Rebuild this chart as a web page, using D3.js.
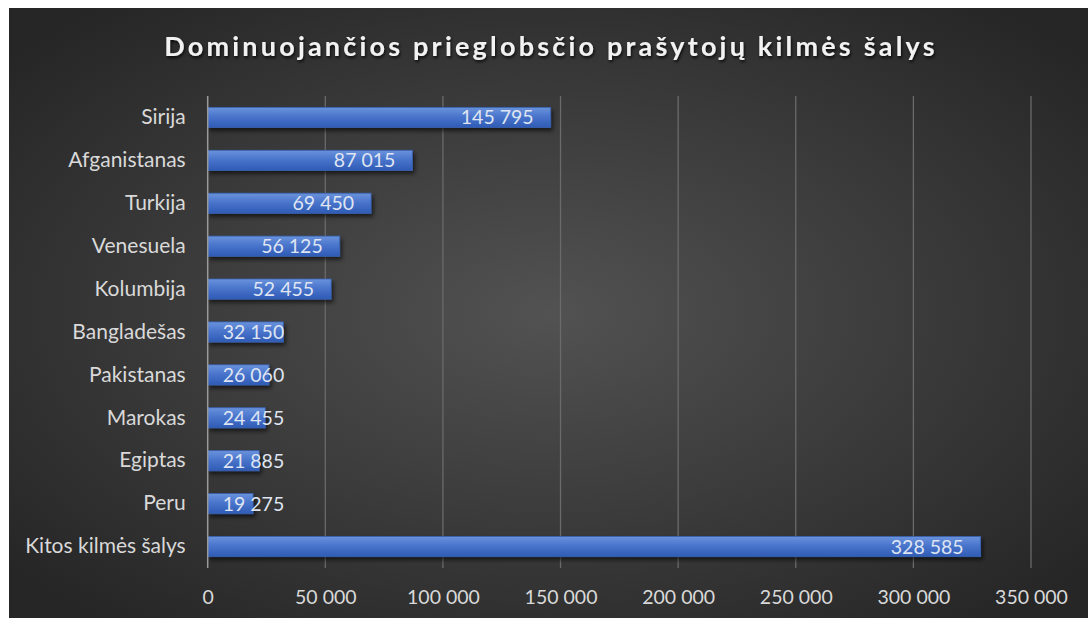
<!DOCTYPE html>
<html><head><meta charset="utf-8">
<script src="https://cdn.jsdelivr.net/npm/d3@7"></script>
<style>
html,body{margin:0;padding:0;background:#fff;}
svg{display:block;}
text{font-family:Lato,"Open Sans",sans-serif;}
</style></head>
<body>
<script>
const categories = ["Sirija","Afganistanas","Turkija","Venesuela","Kolumbija","Bangladešas","Pakistanas","Marokas","Egiptas","Peru","Kitos kilmės šalys"];
const values = [145795,87015,69450,56125,52455,32150,26060,24455,21885,19275,328585];
const tickValues = [0,50000,100000,150000,200000,250000,300000,350000];
const title = "Dominuojančios prieglobsčio prašytojų kilmės šalys";

const W = 1088, H = 618;
const svg = d3.select("body").append("svg").attr("width", W).attr("height", H);
const defs = svg.append("defs");
const rg = defs.append("radialGradient").attr("id","bg").attr("cx","50%").attr("cy","50%").attr("r","65%");
rg.append("stop").attr("offset","0%").attr("stop-color","#525252");
rg.append("stop").attr("offset","100%").attr("stop-color","#262626");
const lg = defs.append("linearGradient").attr("id","bar").attr("x1",0).attr("y1",0).attr("x2",0).attr("y2",1);
lg.append("stop").attr("offset","0%").attr("stop-color","#6a93dc");
lg.append("stop").attr("offset","45%").attr("stop-color","#4a75cc");
lg.append("stop").attr("offset","100%").attr("stop-color","#2f5bb5");
const sh = defs.append("filter").attr("id","sh").attr("x","-10%").attr("y","-30%").attr("width","130%").attr("height","180%");
sh.append("feDropShadow").attr("dx",2).attr("dy",3).attr("stdDeviation",2).attr("flood-color","#000").attr("flood-opacity",0.6);
const tsh = defs.append("filter").attr("id","tsh").attr("x","-5%").attr("y","-30%").attr("width","110%").attr("height","180%");
tsh.append("feDropShadow").attr("dx",1).attr("dy",2).attr("stdDeviation",1.5).attr("flood-color","#000").attr("flood-opacity",0.8);

svg.append("rect").attr("x",9).attr("y",8).attr("width",W-9).attr("height",H-8).attr("fill","url(#bg)");

const x = d3.scaleLinear().domain([0,350000]).range([207.7,1031]);
const y = d3.scaleBand().domain(categories).range([96,568]).paddingInner(0.53).paddingOuter(0.265);

svg.append("text").attr("x",551).attr("y",56).attr("text-anchor","middle")
  .attr("font-size",27).attr("font-weight","bold").attr("letter-spacing","3.2px")
  .attr("fill","#f2f2f2").attr("filter","url(#tsh)").text(title);

// gridlines
const grid = svg.append("g");
grid.selectAll("line").data(tickValues.slice(1)).join("line")
  .attr("x1",d=>x(d)).attr("x2",d=>x(d)).attr("y1",96).attr("y2",568)
  .attr("stroke","#6a6a6a").attr("stroke-width",1.3);

const fmt = d=>d3.format(",")(d).replace(/,/g," ");

// x axis (labels only)
const xAxis = svg.append("g").attr("transform","translate(0,568)")
  .call(d3.axisBottom(x).tickValues(tickValues).tickSize(0).tickPadding(22).tickFormat(fmt));
xAxis.select(".domain").remove();
xAxis.selectAll("text").attr("font-size",19.5).attr("fill","#d9d9d9").attr("font-family","Lato,sans-serif");

// bars
const bars = svg.append("g");
bars.selectAll("rect").data(values).join("rect")
  .attr("x",x(0)).attr("y",(d,i)=>y(categories[i]))
  .attr("width",d=>x(d)-x(0)).attr("height",y.bandwidth())
  .attr("fill","url(#bar)").attr("stroke","#3a62b0").attr("stroke-width",0.8)
  .attr("filter","url(#sh)");

// y axis
const yAxis = svg.append("g").attr("transform",`translate(${x(0)},0)`)
  .call(d3.axisLeft(y).tickSize(0).tickPadding(22));
yAxis.select(".domain").attr("stroke","#9a9a9a").attr("stroke-width",1.5).attr("d","M0,96V568");
yAxis.selectAll("text").attr("font-size",21).attr("fill","#d9d9d9").attr("font-family","Lato,sans-serif");

// data labels
const lbl = svg.append("g");
values.forEach((v,i)=>{
  const t = lbl.append("text").attr("font-size",19.5).attr("fill","#dfe5f2")
    .attr("y", y(categories[i]) + y.bandwidth()/2).attr("dy","0.36em").text(fmt(v));
  const w = t.node().getComputedTextLength();
  const xs = Math.max(x(0)+15, x(v)-17-w);
  t.attr("x", xs);
});
</script>
</body></html>
